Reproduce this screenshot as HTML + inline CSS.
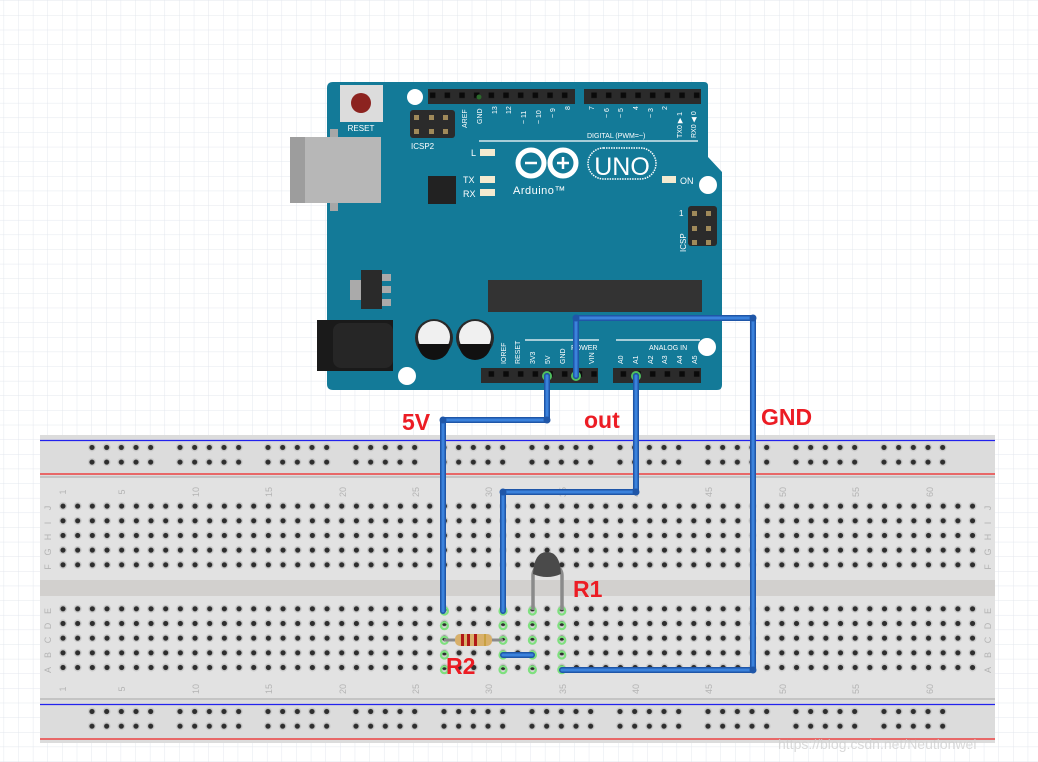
<!DOCTYPE html>
<html><head><meta charset="utf-8"><style>
html,body{margin:0;padding:0;background:#fff;width:1038px;height:762px;overflow:hidden}
svg{display:block}
text{font-family:"Liberation Sans",sans-serif}
</style></head><body>
<svg width="1038" height="762" viewBox="0 0 1038 762" xmlns="http://www.w3.org/2000/svg">
<defs>
<pattern id="grid" x="3.6" y="0.5" width="14.63" height="14.63" patternUnits="userSpaceOnUse">
<path d="M0 0H14.63M0 0V14.63" stroke="#e3e7ee" stroke-width="1" fill="none"/>
</pattern>
<pattern id="hole" x="55.67" y="0" width="14.67" height="14.67" patternUnits="userSpaceOnUse">
<circle cx="7.33" cy="7.33" r="4" fill="#c9c9c9"/><circle cx="7.33" cy="7.33" r="2.6" fill="#2e2e2e"/>
</pattern>
<pattern id="rail" x="84.67" y="0" width="88" height="14.67" patternUnits="userSpaceOnUse">
<g fill="#c9c9c9"><circle cx="7.33" cy="7.33" r="4"/><circle cx="22" cy="7.33" r="4"/><circle cx="36.67" cy="7.33" r="4"/><circle cx="51.33" cy="7.33" r="4"/><circle cx="66" cy="7.33" r="4"/></g>
<g fill="#2e2e2e"><circle cx="7.33" cy="7.33" r="2.6"/><circle cx="22" cy="7.33" r="2.6"/><circle cx="36.67" cy="7.33" r="2.6"/><circle cx="51.33" cy="7.33" r="2.6"/><circle cx="66" cy="7.33" r="2.6"/></g>
</pattern>
<pattern id="pins" x="0" y="0" width="14.67" height="14.67" patternUnits="userSpaceOnUse">
<rect x="4.5" y="4.5" width="5.5" height="5.5" fill="#0a0a0a"/>
</pattern>
</defs>
<rect width="1038" height="762" fill="url(#grid)"/>

<!-- Breadboard -->
<rect x="40" y="435" width="955" height="308" fill="#dcdcdc"/>
<rect x="40" y="477" width="955" height="221" fill="#e2e2e2"/>
<rect x="40" y="580" width="955" height="16" fill="#d2d0ce"/>
<line x1="40" y1="477" x2="995" y2="477" stroke="#c4c4c4" stroke-width="2"/>
<line x1="40" y1="699" x2="995" y2="699" stroke="#c4c4c4" stroke-width="2"/>
<line x1="40" y1="440.5" x2="995" y2="440.5" stroke="#2222ee" stroke-width="1.3"/>
<line x1="40" y1="474" x2="995" y2="474" stroke="#ee2222" stroke-width="1.3"/>
<line x1="40" y1="704.5" x2="995" y2="704.5" stroke="#2222ee" stroke-width="1.3"/>
<line x1="40" y1="739" x2="995" y2="739" stroke="#ee2222" stroke-width="1.3"/>
<rect x="84.67" y="441.67" width="880" height="29.34" fill="url(#rail)"/>
<rect x="84.67" y="706.67" width="880" height="29.34" fill="url(#rail)" transform="translate(0,0)"/>
<rect x="55.67" y="500.67" width="924" height="73.35" fill="url(#hole)"/>
<rect x="55.67" y="603.67" width="924" height="73.35" fill="url(#hole)"/>

<g fill="#b4b4b4" font-size="9">
<g transform="rotate(-90)" text-anchor="middle">
<text x="-492" y="66">1</text><text x="-492" y="125">5</text><text x="-492" y="199">10</text><text x="-492" y="272">15</text><text x="-492" y="346">20</text><text x="-492" y="419">25</text><text x="-492" y="492">30</text><text x="-492" y="566">35</text><text x="-492" y="639">40</text><text x="-492" y="712">45</text><text x="-492" y="786">50</text><text x="-492" y="859">55</text><text x="-492" y="933">60</text>
<text x="-689" y="66">1</text><text x="-689" y="125">5</text><text x="-689" y="199">10</text><text x="-689" y="272">15</text><text x="-689" y="346">20</text><text x="-689" y="419">25</text><text x="-689" y="492">30</text><text x="-689" y="566">35</text><text x="-689" y="639">40</text><text x="-689" y="712">45</text><text x="-689" y="786">50</text><text x="-689" y="859">55</text><text x="-689" y="933">60</text>
<text x="-508" y="51">J</text><text x="-523" y="51">I</text><text x="-537" y="51">H</text><text x="-552" y="51">G</text><text x="-567" y="51">F</text>
<text x="-611" y="51">E</text><text x="-626" y="51">D</text><text x="-640" y="51">C</text><text x="-655" y="51">B</text><text x="-670" y="51">A</text>
<text x="-508" y="991">J</text><text x="-523" y="991">I</text><text x="-537" y="991">H</text><text x="-552" y="991">G</text><text x="-567" y="991">F</text>
<text x="-611" y="991">E</text><text x="-626" y="991">D</text><text x="-640" y="991">C</text><text x="-655" y="991">B</text><text x="-670" y="991">A</text>
</g></g>

<!-- green highlighted holes -->
<g fill="none" stroke="#7ee07e" stroke-width="2.2">
<circle cx="444.4" cy="611" r="3.5"/><circle cx="444.4" cy="625.7" r="3.5"/><circle cx="444.4" cy="640.3" r="3.5"/><circle cx="444.4" cy="655" r="3.5"/><circle cx="444.4" cy="669.7" r="3.5"/>
<circle cx="503" cy="611" r="3.5"/><circle cx="503" cy="625.7" r="3.5"/><circle cx="503" cy="640.3" r="3.5"/><circle cx="503" cy="655" r="3.5"/><circle cx="503" cy="669.7" r="3.5"/>
<circle cx="532.4" cy="611" r="3.5"/><circle cx="532.4" cy="625.7" r="3.5"/><circle cx="532.4" cy="640.3" r="3.5"/><circle cx="532.4" cy="655" r="3.5"/><circle cx="532.4" cy="669.7" r="3.5"/>
<circle cx="561.8" cy="611" r="3.5"/><circle cx="561.8" cy="625.7" r="3.5"/><circle cx="561.8" cy="640.3" r="3.5"/><circle cx="561.8" cy="655" r="3.5"/><circle cx="561.8" cy="669.7" r="3.5"/>
</g>

<!-- Arduino -->
<path d="M333 82 H704 Q708 82 708 86 V157 L722 172 V385 Q722 390 717 390 H333 Q327 390 327 384 V88 Q327 82 333 82Z" fill="#137a98"/>
<!-- USB -->
<rect x="330" y="129" width="8" height="82" fill="#a7a7a7"/>
<rect x="290" y="137" width="91" height="66" fill="#b7b7b7"/>
<rect x="290" y="137" width="15" height="66" fill="#9d9d9d"/>
<!-- reset -->
<rect x="340" y="85" width="43" height="37" fill="#dcdcdc"/>
<circle cx="361" cy="103" r="10" fill="#8c2320"/>
<text x="361" y="131" fill="#fff" font-size="8" text-anchor="middle" font-family="Liberation Mono,monospace">RESET</text>
<!-- mounting holes -->
<circle cx="415" cy="97" r="8" fill="#fff"/><circle cx="708" cy="185" r="9" fill="#fff"/><circle cx="707" cy="347" r="9" fill="#fff"/><circle cx="407" cy="376" r="9" fill="#fff"/>
<!-- headers -->
<rect x="428" y="89" width="147" height="15" fill="#2b2b2b"/><rect x="428" y="89" width="147" height="15" fill="url(#pins)" transform="translate(0,0)"/>
<rect x="584" y="89" width="117" height="15" fill="#2b2b2b"/><rect x="584" y="89" width="117" height="15" fill="url(#pins)"/>
<circle cx="479" cy="97" r="2.5" fill="#2a6a2a"/>
<rect x="481" y="368" width="117" height="15" fill="#2b2b2b"/><rect x="481" y="368" width="117" height="15" fill="url(#pins)"/>
<rect x="613" y="368" width="88" height="15" fill="#2b2b2b"/><rect x="613" y="368" width="88" height="15" fill="url(#pins)"/>
<!-- ICSP2 -->
<rect x="410" y="110" width="45" height="28" rx="3" fill="#2b2b2b"/>
<g fill="#a08a5a"><rect x="414" y="115" width="5" height="5"/><rect x="429" y="115" width="5" height="5"/><rect x="443" y="115" width="5" height="5"/><rect x="414" y="129" width="5" height="5"/><rect x="429" y="129" width="5" height="5"/><rect x="443" y="129" width="5" height="5"/></g>
<text x="411" y="149" fill="#fff" font-size="8" font-family="Liberation Mono,monospace">ICSP2</text>
<!-- ICSP right -->
<rect x="688" y="206" width="29" height="40" rx="3" fill="#2b2b2b"/>
<g fill="#a08a5a"><rect x="692" y="211" width="5" height="5"/><rect x="706" y="211" width="5" height="5"/><rect x="692" y="226" width="5" height="5"/><rect x="706" y="226" width="5" height="5"/><rect x="692" y="240" width="5" height="5"/><rect x="706" y="240" width="5" height="5"/></g>
<text transform="translate(686,252) rotate(-90)" fill="#fff" font-size="8" font-family="Liberation Mono,monospace">ICSP</text>
<text x="679" y="216" fill="#fff" font-size="8">1</text>
<!-- top pin labels -->
<g fill="#fff" font-size="7" font-family="Liberation Mono,monospace">
<text transform="translate(467,128) rotate(-90)">AREF</text><text transform="translate(482,124) rotate(-90)">GND</text>
<text transform="translate(497,114) rotate(-90)">13</text><text transform="translate(511,114) rotate(-90)">12</text><text transform="translate(526,124) rotate(-90)">~ 11</text><text transform="translate(541,124) rotate(-90)">~ 10</text><text transform="translate(555,118) rotate(-90)">~ 9</text><text transform="translate(570,110) rotate(-90)">8</text>
<text transform="translate(594,110) rotate(-90)">7</text><text transform="translate(609,118) rotate(-90)">~ 6</text><text transform="translate(623,118) rotate(-90)">~ 5</text><text transform="translate(638,110) rotate(-90)">4</text><text transform="translate(653,118) rotate(-90)">~ 3</text><text transform="translate(667,110) rotate(-90)">2</text><text transform="translate(682,138) rotate(-90)">TX0 ▶ 1</text><text transform="translate(696,138) rotate(-90)">RX0 ◀ 0</text>
<text x="587" y="138">DIGITAL (PWM=~)</text>
<text transform="translate(506,364) rotate(-90)">IOREF</text><text transform="translate(520,364) rotate(-90)">RESET</text><text transform="translate(535,364) rotate(-90)">3V3</text><text transform="translate(550,364) rotate(-90)">5V</text><text transform="translate(565,364) rotate(-90)">GND</text><text transform="translate(594,364) rotate(-90)">VIN</text>
<text transform="translate(623,364) rotate(-90)">A0</text><text transform="translate(638,364) rotate(-90)">A1</text><text transform="translate(653,364) rotate(-90)">A2</text><text transform="translate(667,364) rotate(-90)">A3</text><text transform="translate(682,364) rotate(-90)">A4</text><text transform="translate(697,364) rotate(-90)">A5</text>
<text x="571" y="350">POWER</text><text x="649" y="350">ANALOG IN</text>
</g>
<line x1="479" y1="141" x2="698" y2="141" stroke="#fff" stroke-width="1.3"/>
<line x1="525" y1="340" x2="599" y2="340" stroke="#fff" stroke-width="1.3"/>
<line x1="616" y1="340" x2="700" y2="340" stroke="#fff" stroke-width="1.3"/>
<!-- LEDs -->
<g fill="#f3ead0"><rect x="480" y="149" width="15" height="7"/><rect x="480" y="176" width="15" height="7"/><rect x="480" y="189" width="15" height="7"/><rect x="662" y="176" width="14" height="7"/></g>
<g fill="#fff" font-size="9" font-family="Liberation Mono,monospace"><text x="471" y="156">L</text><text x="463" y="183">TX</text><text x="463" y="197">RX</text><text x="680" y="184">ON</text></g>
<rect x="428" y="176" width="28" height="28" fill="#222"/>
<!-- logo -->
<g fill="none" stroke="#fff" stroke-width="5"><circle cx="531" cy="163" r="13"/><circle cx="563" cy="163" r="13"/></g>
<g stroke="#fff" stroke-width="2.5"><line x1="525" y1="163" x2="537" y2="163"/><line x1="557" y1="163" x2="569" y2="163"/><line x1="563" y1="157" x2="563" y2="169"/></g>
<rect x="588" y="148" width="68" height="31" rx="15.5" fill="none" stroke="#fff" stroke-width="1.5" stroke-dasharray="1.5 1"/>
<text x="622" y="175" fill="#fff" font-size="25" text-anchor="middle">UNO</text>
<text x="513" y="194" fill="#fff" font-size="11" font-family="Liberation Mono,monospace" letter-spacing="0.5">Arduino™</text>
<!-- big chip -->
<rect x="488" y="280" width="214" height="32" fill="#333"/>
<!-- regulator -->
<rect x="350" y="280" width="13" height="20" fill="#aaa"/>
<g fill="#aaa"><rect x="381" y="274" width="10" height="7"/><rect x="381" y="286" width="10" height="7"/><rect x="381" y="299" width="10" height="7"/></g>
<rect x="361" y="270" width="21" height="39" fill="#2a2a2a"/>
<!-- power jack -->
<rect x="317" y="320" width="76" height="51" fill="#1a1a1a"/>
<rect x="333" y="323" width="60" height="45" rx="8" fill="#262626"/>
<!-- caps -->
<g><circle cx="434" cy="338" r="19" fill="#2a2a2a"/><circle cx="434" cy="337" r="16" fill="#f0f0f0"/><path d="M418 344 H450 A16 16 0 0 1 418 344Z" fill="#111"/></g>
<g><circle cx="475" cy="338" r="19" fill="#2a2a2a"/><circle cx="475" cy="337" r="16" fill="#f0f0f0"/><path d="M459 344 H491 A16 16 0 0 1 459 344Z" fill="#111"/></g>
<g fill="none" stroke="#4fbf5f" stroke-width="2"><circle cx="547" cy="376" r="4"/><circle cx="576" cy="376" r="4"/><circle cx="636" cy="376" r="4"/></g>

<!-- thermistor -->
<path d="M533 610 V576 Q533 568 540 566 M562 610 V576 Q562 568 555 566" stroke="#8a8a8a" stroke-width="3.5" fill="none"/>
<path d="M533 574 Q534 552 547 552 Q560 552 561 574 Q547 580 533 574Z" fill="#4a4a4a"/>
<!-- resistor -->
<line x1="444" y1="640" x2="503" y2="640" stroke="#8a8a8a" stroke-width="3"/>
<rect x="455" y="634" width="37" height="12" rx="5" fill="#d8b06a"/>
<g fill="#b01818"><rect x="461" y="634" width="3" height="12"/><rect x="467" y="634" width="3" height="12"/><rect x="474" y="634" width="3" height="12"/></g>
<rect x="484" y="634" width="2" height="12" fill="#c8a040"/>

<!-- wires -->
<g fill="none" stroke-linejoin="round" stroke-linecap="round">
<g stroke="#1f56a8" stroke-width="6">
<path d="M547 376 V420 H443 V611"/><path d="M636 376 V492 H503 V611"/><path d="M576 376 V318 H753 V670 H562"/><path d="M503 655 H532"/>
</g>
<g stroke="#3b82dc" stroke-width="3">
<path d="M547 376 V420 H443 V611"/><path d="M636 376 V492 H503 V611"/><path d="M576 376 V318 H753 V670 H562"/><path d="M503 655 H532"/>
</g>
</g>
<g fill="#1f56a8"><circle cx="443" cy="420" r="3.5"/><circle cx="547" cy="420" r="3.5"/><circle cx="503" cy="492" r="3.5"/><circle cx="636" cy="492" r="3.5"/><circle cx="576" cy="318" r="3.5"/><circle cx="753" cy="318" r="3.5"/><circle cx="753" cy="670" r="3.5"/></g>

<!-- labels -->
<g fill="#ec1c24" font-weight="bold" font-size="23">
<text x="402" y="430">5V</text><text x="584" y="428">out</text><text x="761" y="425">GND</text><text x="573" y="597">R1</text><text x="446" y="674">R2</text>
</g>
<text x="778" y="749" fill="#cfcfcf" font-size="14" fill-opacity="0.8">https://blog.csdn.net/Neutionwei</text>
</svg>
</body></html>
